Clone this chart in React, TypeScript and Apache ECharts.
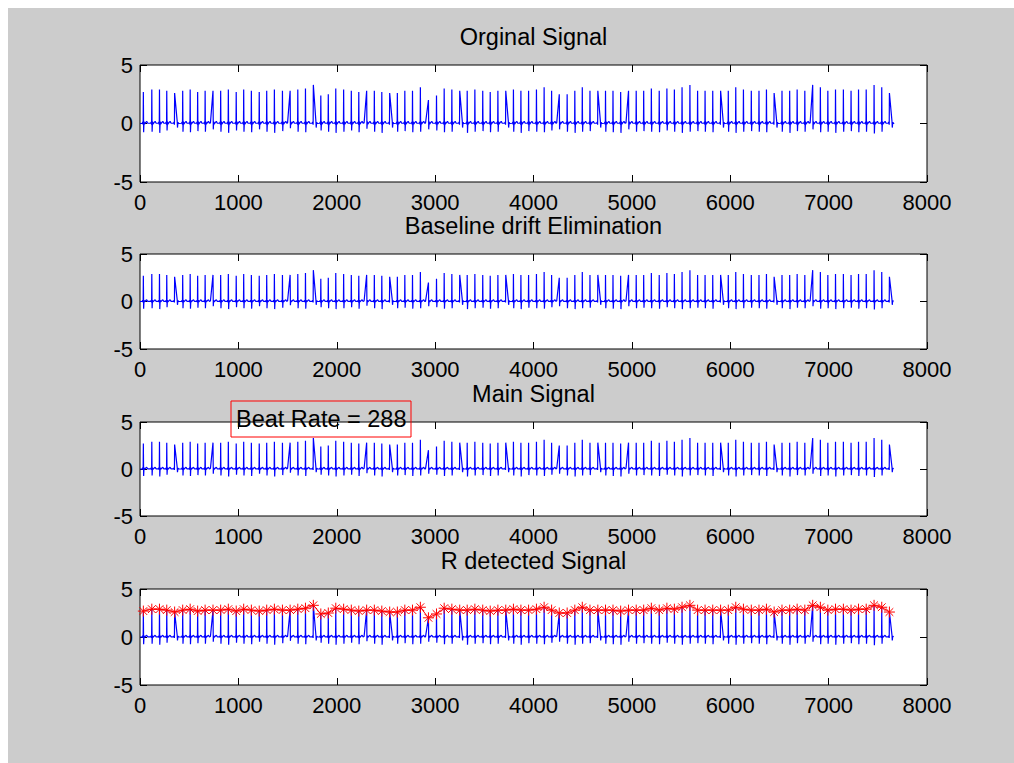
import React, { useEffect, useRef } from "react";
import * as echarts from "echarts";

// Axis ranges shared by the four panels
const xMin = 0;
const xMax = 8000;
const xStep = 1000;
const yMin = -5;
const yMax = 5;
const yStep = 5;

const panelTitles = [
  "Orginal Signal",
  "Baseline drift Elimination",
  "Main Signal",
  "R detected Signal",
];

const beatRateLabel = "Beat Rate = 288";

// Sample index of every R peak
const rPeakSample = [
  34, 120, 198, 272, 352, 434, 510, 586, 662, 742,
  820, 898, 978, 1054, 1132, 1212, 1288, 1366, 1448, 1526,
  1604, 1682, 1762, 1838, 1914, 1990, 2070, 2148, 2224, 2304,
  2382, 2458, 2538, 2616, 2692, 2770, 2850, 2932, 3014, 3092,
  3170, 3250, 3326, 3404, 3484, 3560, 3638, 3718, 3796, 3872,
  3950, 4030, 4108, 4184, 4262, 4342, 4420, 4496, 4574, 4654,
  4732, 4808, 4886, 4966, 5044, 5120, 5198, 5278, 5356, 5432,
  5510, 5590, 5668, 5744, 5822, 5902, 5980, 6056, 6134, 6214,
  6292, 6368, 6446, 6526, 6604, 6680, 6758, 6838, 6916, 6992,
  7070, 7150, 7228, 7304, 7382, 7462, 7540, 7618,
];

// Amplitude of every R peak (also the detected R values)
const rPeakValue = [
  2.7, 2.9, 2.9, 2.8, 2.6, 2.8, 2.9, 2.7, 2.8, 2.8,
  2.8, 2.9, 2.7, 2.9, 2.8, 2.7, 2.8, 2.9, 2.8, 2.8,
  2.9, 3.0, 3.3, 2.4, 2.5, 3.0, 2.9, 2.8, 2.7, 2.8,
  2.8, 2.7, 2.6, 2.6, 2.8, 2.8, 3.1, 2.0, 2.4, 3.0,
  2.9, 2.8, 2.8, 2.9, 2.8, 2.7, 2.8, 2.8, 2.9, 2.8,
  2.8, 2.9, 3.1, 2.8, 2.5, 2.5, 2.8, 3.1, 2.8, 2.8,
  2.8, 2.8, 2.7, 2.8, 2.8, 2.8, 3.0, 2.8, 3.0, 2.9,
  3.1, 3.3, 2.8, 2.8, 2.8, 2.8, 2.8, 3.1, 2.9, 2.8,
  2.8, 2.9, 2.6, 2.8, 2.8, 2.9, 2.8, 3.3, 3.1, 2.8,
  2.9, 2.9, 2.8, 2.9, 2.9, 3.3, 3.1, 2.6,
];

// Depth of the S wave after each R peak
const sWaveValue = [
  -0.75, -0.7, -0.8, -0.6, -0.3, -0.7, -0.75, -0.65, -0.7, -0.5,
  -0.7, -0.8, -0.6, -0.7, -0.75, -0.5, -0.7, -0.8, -0.65, -0.4,
  -0.7, -0.75, -0.35, -0.6, -0.7, -0.8, -0.7, -0.6, -0.75, -0.45,
  -0.7, -0.8, -0.4, -0.7, -0.65, -0.75, -0.7, -0.5, -0.6, -0.75,
  -0.7, -0.35, -0.8, -0.7, -0.65, -0.75, -0.7, -0.4, -0.7, -0.8,
  -0.65, -0.7, -0.75, -0.6, -0.5, -0.7, -0.8, -0.7, -0.65, -0.4,
  -0.7, -0.75, -0.8, -0.5, -0.7, -0.65, -0.7, -0.75, -0.6, -0.7,
  -0.8, -0.7, -0.65, -0.7, -0.75, -0.35, -0.7, -0.8, -0.7, -0.65,
  -0.7, -0.75, -0.4, -0.7, -0.8, -0.65, -0.7, -0.5, -0.75, -0.7,
  -0.8, -0.7, -0.65, -0.75, -0.7, -0.85, -0.7, -0.4,
];

// Beats whose R wave rises slowly, and beats whose R wave falls slowly
const slowRiseBeats = [9, 19, 29, 37, 54, 63, 87];
const slowFallBeats = [4, 22, 32, 41, 47, 59, 75, 82, 97];

// Shape of one heartbeat around the R peak: sample offset and value
const preOffsets = [-12, -6, -2];
const preValues = [0.02, 0.12, -0.1];
const slowPreOffsets = [-30, -26];
const slowPreValues = [0.02, 0.05];
const tailOffsets = [7, 12, 24, 34, 44];
const tailValues = [0.15, -0.05, 0.1, 0.18, 0.02];
const slowTailOffsets = [26, 29, 34, 42];
const slowTailValues = [0.2, -0.35, 0.1, 0.0];

const signalStart = [0, 0.0];
const signalEnd = [7665, 0.05];

const FONT = "'Liberation Sans', Arial, Helvetica, sans-serif";

function buildEcg(): number[][] {
  const pts: number[][] = [signalStart];
  rPeakSample.forEach((p, i) => {
    const rising = slowRiseBeats.includes(i);
    const falling = slowFallBeats.includes(i);
    if (rising) {
      slowPreOffsets.forEach((o, k) => pts.push([p + o, slowPreValues[k]]));
    } else {
      preOffsets.forEach((o, k) => pts.push([p + o, preValues[k]]));
    }
    pts.push([p, rPeakValue[i]]);
    if (falling) {
      slowTailOffsets.forEach((o, k) => pts.push([p + o, slowTailValues[k]]));
    } else {
      pts.push([p + 3, sWaveValue[i]]);
      tailOffsets.forEach((o, k) => pts.push([p + o, tailValues[k]]));
    }
  });
  pts.push(signalEnd);
  return pts;
}

// Panel boxes inside the chart, in pixels
const panelTop = [57, 246, 414, 581];
const panelHeight = [117, 95, 94, 96];
const panelLeft = 132;
const panelWidth = 787;

const makeTick = () => ({
  show: true,
  inside: true,
  length: 7,
  lineStyle: { color: "#000", width: 1 },
});

const makeLabel = (margin: number) => ({
  show: true,
  color: "#000",
  fontSize: 22,
  fontFamily: FONT,
  margin,
  showMinLabel: true,
  showMaxLabel: true,
  formatter: (v: number) => String(v),
});

export default function App() {
  const ref = useRef<HTMLDivElement>(null);

  useEffect(() => {
    if (!ref.current) return;
    const chart = echarts.init(ref.current, undefined, { renderer: "svg" });
    const ecg = buildEcg();
    const rPoints = rPeakSample.map((x, i) => [x, rPeakValue[i]]);

    const grids: any[] = [];
    const xAxes: any[] = [];
    const yAxes: any[] = [];
    const series: any[] = [];
    const graphics: any[] = [];

    panelTitles.forEach((title, i) => {
      grids.push({
        left: panelLeft,
        top: panelTop[i],
        width: panelWidth,
        height: panelHeight[i],
        show: true,
        backgroundColor: "#ffffff",
        borderColor: "#000000",
        borderWidth: 1,
      });
      xAxes.push({
        gridIndex: i,
        type: "value",
        min: xMin,
        max: xMax,
        interval: xStep,
        position: "bottom",
        axisLine: { show: false, onZero: false },
        axisTick: makeTick(),
        axisLabel: makeLabel(9),
        splitLine: { show: false },
      });
      xAxes.push({
        gridIndex: i,
        type: "value",
        min: xMin,
        max: xMax,
        interval: xStep,
        position: "top",
        axisLine: { show: false, onZero: false },
        axisTick: makeTick(),
        axisLabel: { show: false },
        splitLine: { show: false },
      });
      yAxes.push({
        gridIndex: i,
        type: "value",
        min: yMin,
        max: yMax,
        interval: yStep,
        position: "left",
        axisLine: { show: false, onZero: false },
        axisTick: makeTick(),
        axisLabel: makeLabel(7),
        splitLine: { show: false },
      });
      yAxes.push({
        gridIndex: i,
        type: "value",
        min: yMin,
        max: yMax,
        interval: yStep,
        position: "right",
        axisLine: { show: false, onZero: false },
        axisTick: makeTick(),
        axisLabel: { show: false },
        splitLine: { show: false },
      });
      series.push({
        type: "line",
        xAxisIndex: 2 * i,
        yAxisIndex: 2 * i,
        data: ecg,
        showSymbol: false,
        symbol: "none",
        lineStyle: { color: "#0000ff", width: 1.2 },
        z: 2,
      });
      graphics.push({
        type: "text",
        x: panelLeft + panelWidth / 2,
        y: panelTop[i] - 28,
        z: 50,
        style: {
          text: title,
          fill: "#000",
          font: `23.5px ${FONT}`,
          textAlign: "center",
          textVerticalAlign: "middle",
        },
      });
    });

    // R peaks found by the detector, drawn over the last panel
    series.push({
      type: "line",
      xAxisIndex: 6,
      yAxisIndex: 6,
      data: rPoints,
      symbol: "path://M0 -10 L0 10 M-10 0 L10 0 M-7 -7 L7 7 M-7 7 L7 -7",
      symbolSize: 11,
      showSymbol: true,
      itemStyle: { color: "transparent", borderColor: "#ff0000", borderWidth: 1 },
      lineStyle: { color: "#ff0000", width: 1 },
      z: 3,
    });

    // Beat rate annotation box
    graphics.push({
      type: "rect",
      z: 60,
      shape: { x: 223, y: 393, width: 180, height: 36 },
      style: { fill: "none", stroke: "#ff0000", lineWidth: 1 },
    });
    graphics.push({
      type: "text",
      x: 228,
      y: 411,
      z: 61,
      style: {
        text: beatRateLabel,
        fill: "#000",
        font: `23.5px ${FONT}`,
        textAlign: "left",
        textVerticalAlign: "middle",
      },
    });

    chart.setOption({
      animation: false,
      backgroundColor: "#cccccc",
      grid: grids,
      xAxis: xAxes,
      yAxis: yAxes,
      series,
      graphic: graphics,
    });

    return () => chart.dispose();
  }, []);

  return (
    <div
      ref={ref}
      style={{
        position: "absolute",
        left: 8,
        top: 8,
        width: 1006,
        height: 755,
        background: "#cccccc",
      }}
    />
  );
}
